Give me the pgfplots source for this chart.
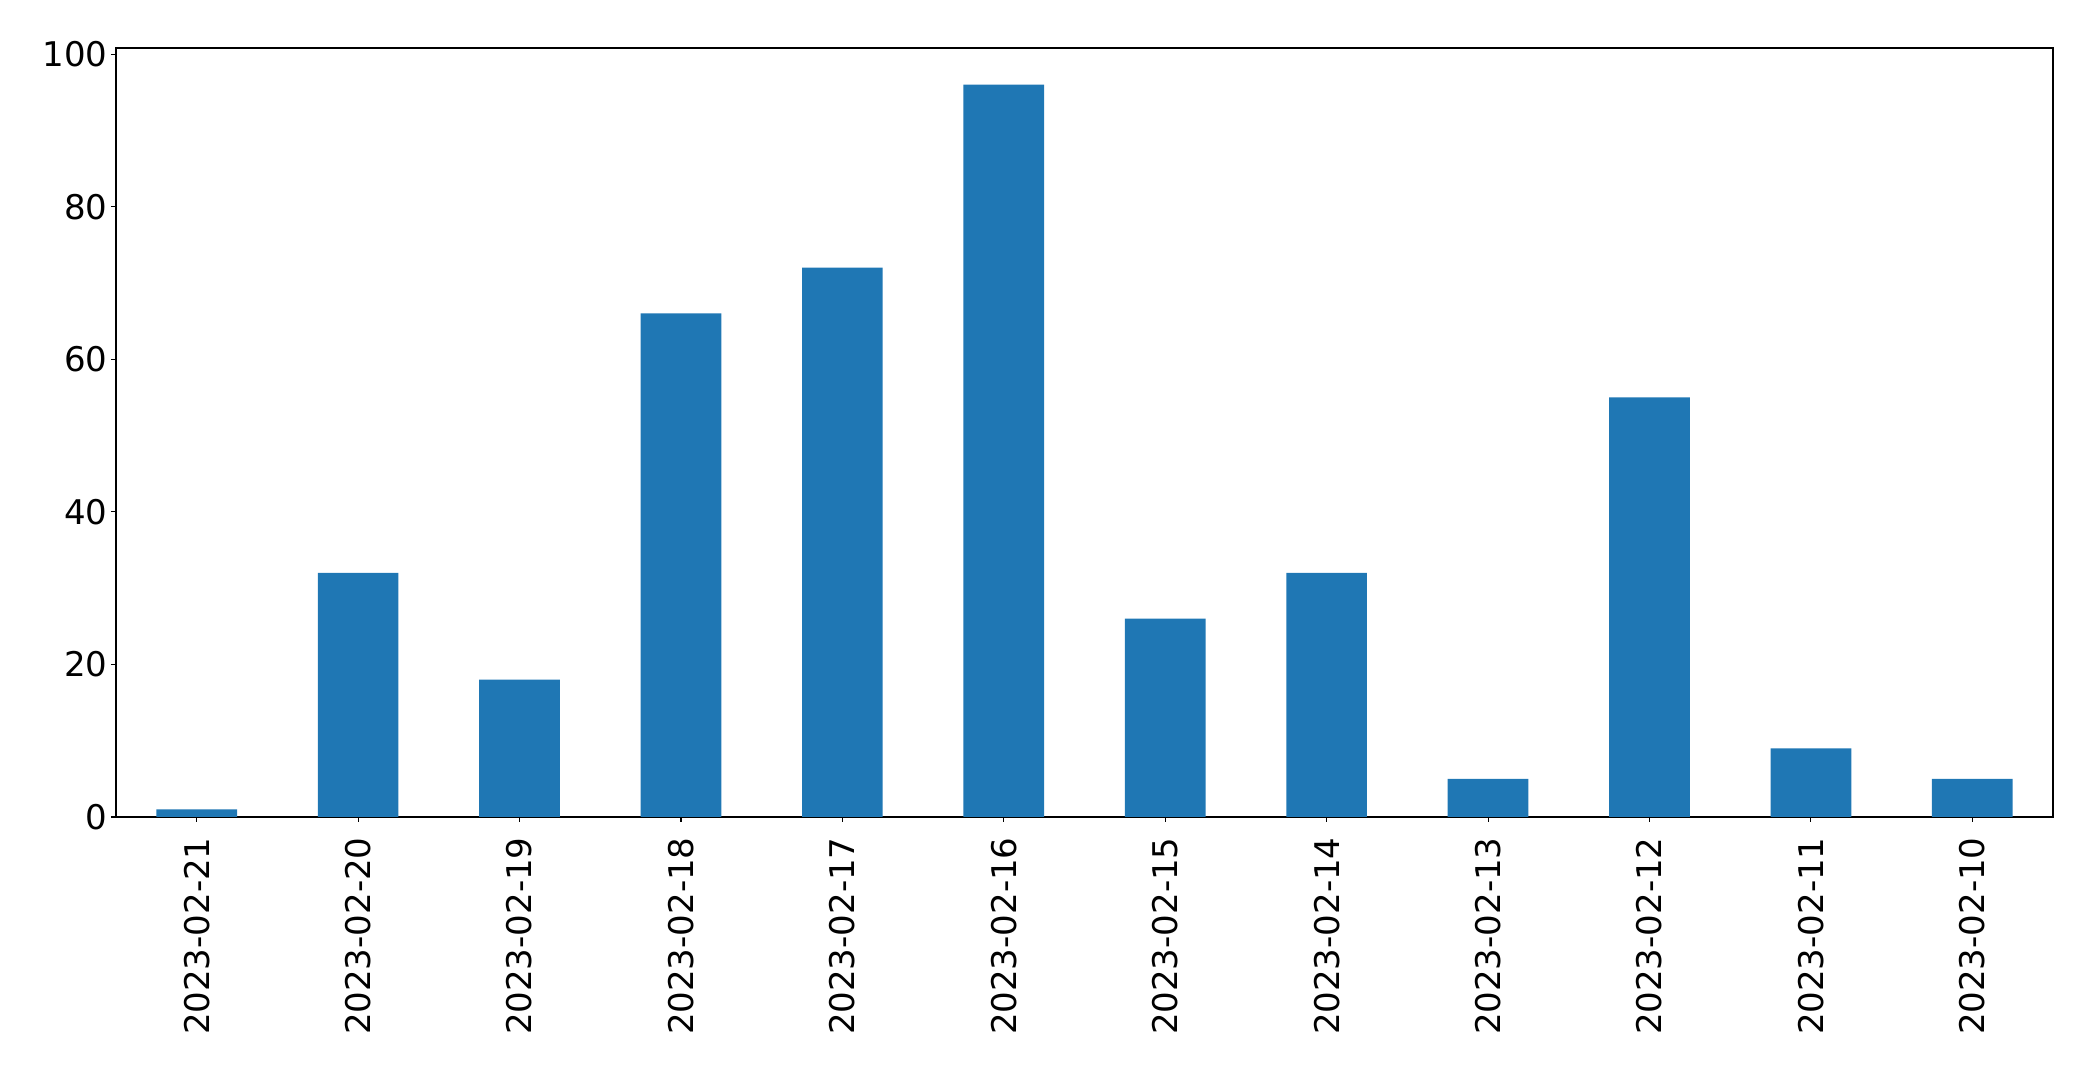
\documentclass[border=0pt]{standalone}
\usepackage{fontspec}
\setmainfont{DejaVu Sans}
\usepackage{pgfplots}
\pgfplotsset{compat=1.18}
\usetikzlibrary{calc}
\definecolor{tabblue}{HTML}{1F77B4}

\begin{document}
\fontsize{17}{20}\selectfont
\begin{tikzpicture}
  \begin{axis}[
    scale only axis,
    width=968.5pt, height=384.5pt,
    xmin=-0.5, xmax=11.5,
    ymin=0, ymax=100.8,
    xtick=data,
    xticklabels={2023-02-21,2023-02-20,2023-02-19,2023-02-18,2023-02-17,2023-02-16,2023-02-15,2023-02-14,2023-02-13,2023-02-12,2023-02-11,2023-02-10},
    ytick={0,20,40,60,80,100},
    tick align=outside,
    major tick length=2.5pt,
    tick style={black, line width=0.55pt},
    axis line style={black, line width=0.55pt},
    xtick pos=bottom, ytick pos=left,
    /pgf/number format/assume math mode=true,
    tick label style={font=\fontsize{17}{20}\selectfont},
    xticklabel style={yshift=-7.5pt, rotate=90, anchor=east, inner sep=0pt},
    yticklabel style={anchor=east, inner sep=0pt, xshift=-1.5pt},
  ]
    \addplot[ybar, bar width=0.5, fill=tabblue, draw=none] coordinates {
      (0, 1)
      (1, 32)
      (2, 18)
      (3, 66)
      (4, 72)
      (5, 96)
      (6, 26)
      (7, 32)
      (8, 5)
      (9, 55)
      (10, 9)
      (11, 5)
    };
    \coordinate (bl) at (rel axis cs:0,0);
    \coordinate (tr) at (rel axis cs:1,1);
  \end{axis}
  \pgfresetboundingbox
  \path[use as bounding box] ($(bl)+(-58pt,-126pt)$) rectangle ($(tr)+(20pt,24pt)$);
\end{tikzpicture}
\end{document}
